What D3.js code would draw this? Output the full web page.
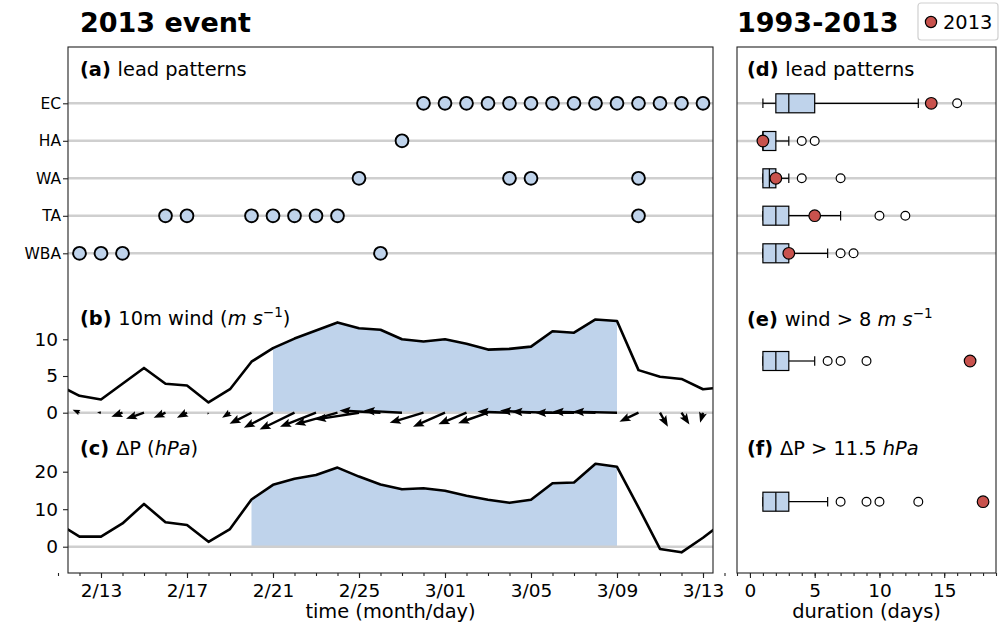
<!DOCTYPE html>
<html>
<head>
<meta charset="utf-8">
<script src="https://cdn.jsdelivr.net/npm/d3@7"></script>
<style>
  body { margin: 0; background: #fff; }
  svg text { font-family: "DejaVu Sans", sans-serif; fill: #000; }
</style>
</head>
<body>
<div id="chart"></div>
<script>
// ---- data ----
var dates = d3.timeDay.range(new Date(2013, 1, 11), new Date(2013, 2, 15)); // 2/11 .. 3/14
var wind = [3.8, 2.3, 1.8, 3.95, 6.1, 3.95, 3.7, 1.4, 3.2, 6.95, 8.8, 10.1, 11.2, 12.3, 11.5, 11.3, 10.0, 9.7,
            10.0, 9.4, 8.6, 8.7, 9.0, 11.1, 10.9, 12.7, 12.5, 5.8, 4.9, 4.6, 3.2, 3.5];
var dP = [6.2, 2.7, 2.7, 6.2, 11.4, 6.5, 5.8, 1.3, 4.7, 12.6, 16.5, 18.1, 19.1, 21.1, 18.7, 16.6, 15.3, 15.6,
          14.9, 13.6, 12.5, 11.7, 12.5, 16.9, 17.1, 22.1, 21.3, 10.5, -0.6, -1.5, 2.4, 6.7];
// 10m wind components (m/s)
var windU = [-1.0, -1.9, -1.1, -3.1, -5.0, -3.3, -2.8, -0.3, -2.2, -6.1, -8.1, -9.7, -10.0, -11.9, -12.2, -11.4, -10.6, -9.4,
             -8.9, -7.8, -8.3, -8.9, -8.6, -11.4, -10.8, -11.9, -12.2, -5.3, 2.2, 2.2, -0.8, -1.0];
var windV = [0.5, 0.8, 0.1, -1.1, -1.7, -1.4, -1.4, -0.6, -1.4, -3.1, -4.2, -4.7, -3.9, -3.3, -1.9, 0.6, 0.6, -2.8,
             -3.9, -3.2, -2.9, 0.3, 0.6, 0.3, 0.0, 0.3, 0.3, -2.5, -3.9, -3.3, -2.8, -2.0];
var windRun = ["2013-02-21", "2013-03-09"];
var dPRun = ["2013-02-20", "2013-03-09"];

var patterns = ["EC", "HA", "WA", "TA", "WBA"];
var leadDays = {
  EC: ["2013-02-28", "2013-03-01", "2013-03-02", "2013-03-03", "2013-03-04", "2013-03-05", "2013-03-06",
       "2013-03-07", "2013-03-08", "2013-03-09", "2013-03-10", "2013-03-11", "2013-03-12", "2013-03-13"],
  HA: ["2013-02-27"],
  WA: ["2013-02-25", "2013-03-04", "2013-03-05", "2013-03-10"],
  TA: ["2013-02-16", "2013-02-17", "2013-02-20", "2013-02-21", "2013-02-22", "2013-02-23", "2013-02-24", "2013-03-10"],
  WBA: ["2013-02-12", "2013-02-13", "2013-02-14", "2013-02-26"]
};
var xTickLabels = ["2/13", "2/17", "2/21", "2/25", "3/01", "3/05", "3/09", "3/13"];

// durations 1993-2013: [whisker low, q1, median, q3, whisker high]
var boxNames = ["EC", "HA", "WA", "TA", "WBA", "wind", "dP"];
var boxStats = [[1, 2, 3, 5, 13], [1, 1, 1, 2, 3], [1, 1, 1.5, 2, 3], [1, 1, 2, 3, 7], [1, 1, 2, 3, 6], [1, 1, 2, 3, 5], [1, 1, 2, 3, 6]];
var boxOutliers = [[16], [4, 5], [4, 7], [10, 12], [7, 8], [6, 7, 9], [7, 9, 10, 13]];
var dur2013 = [14, 1, 2, 5, 3, 17, 18];

// ---- layout ----
var W = 1001, H = 626;
var L = {x0: 68, x1: 713, y0: 47, y1: 573};
var R = {x0: 737, x1: 996, y0: 47, y1: 573};
var blue = "#bfd3eb", red = "#c8524d", grid = "#cfcfcf";

var svg = d3.select("#chart").append("svg").attr("width", W).attr("height", H);

svg.append("clipPath").attr("id", "clipL")
  .append("rect").attr("x", L.x0).attr("y", L.y0).attr("width", L.x1 - L.x0).attr("height", L.y1 - L.y0);

var parse = d3.timeParse("%Y-%m-%d");
var x = d3.scaleTime()
  .domain([new Date(2013, 1, 11, 11, 10), new Date(2013, 2, 13, 11, 10)])
  .range([L.x0, L.x1]);
var yA = d3.scalePoint().domain(patterns).range([103.3, 253.3]);
var yB = d3.scaleLinear().domain([0, 10]).range([412.7, 339.3]);
var yC = d3.scaleLinear().domain([0, 20]).range([546.7, 471.7]);

var gL = svg.append("g").attr("clip-path", "url(#clipL)");

// panel a
gL.selectAll(".rowA").data(patterns).enter().append("line")
  .attr("x1", L.x0).attr("x2", L.x1).attr("y1", d => yA(d)).attr("y2", d => yA(d))
  .attr("stroke", grid).attr("stroke-width", 2.5);
patterns.forEach(function(p) {
  gL.selectAll(".dot" + p).data(leadDays[p]).enter().append("circle")
    .attr("cx", d => x(parse(d))).attr("cy", yA(p)).attr("r", 6.4)
    .attr("fill", blue).attr("stroke", "#000").attr("stroke-width", 1.9);
});

// panel b
var windData = dates.map((d, i) => ({date: d, v: wind[i], u: windU[i], w: windV[i]}));
var wr = windRun.map(parse);
gL.append("path")
  .datum(windData.filter(d => d.date >= wr[0] && d.date <= wr[1]))
  .attr("fill", blue)
  .attr("d", d3.area().x(d => x(d.date)).y0(yB(0)).y1(d => yB(d.v)));
gL.append("line").attr("x1", L.x0).attr("x2", L.x1).attr("y1", yB(0)).attr("y2", yB(0))
  .attr("stroke", grid).attr("stroke-width", 2.5);
gL.append("path").datum(windData)
  .attr("fill", "none").attr("stroke", "#000").attr("stroke-width", 2.6).attr("stroke-linejoin", "round")
  .attr("d", d3.line().x(d => x(d.date)).y(d => yB(d.v)));

// quiver arrows (tail at the zero line)
var qScale = 3.6;
function arrowPath(d) {
  var x0 = x(d.date), y0 = yB(0);
  var dx = d.u * qScale, dy = -d.w * qScale;
  var len = Math.sqrt(dx * dx + dy * dy);
  if (len < 0.5) return "";
  var sw = 2.4, hl = 11, ha = 9.5, hw = 8.5;
  if (len < hl) { var k = len / hl; hl *= k; ha *= k; hw *= k; sw *= k; }
  var ux = dx / len, uy = dy / len, px = -uy, py = ux;
  function pt(a, b) { return [x0 + ux * a + px * b, y0 + uy * a + py * b]; }
  var pts = [pt(0, sw / 2), pt(len - ha, sw / 2), pt(len - hl, hw / 2), pt(len, 0),
             pt(len - hl, -hw / 2), pt(len - ha, -sw / 2), pt(0, -sw / 2)];
  return "M" + pts.map(p => p[0].toFixed(2) + "," + p[1].toFixed(2)).join("L") + "Z";
}
gL.selectAll(".arrow").data(windData).enter().append("path")
  .attr("d", arrowPath).attr("fill", "#000");

// panel c
var dPData = dates.map((d, i) => ({date: d, v: dP[i]}));
var pr = dPRun.map(parse);
gL.append("path")
  .datum(dPData.filter(d => d.date >= pr[0] && d.date <= pr[1]))
  .attr("fill", blue)
  .attr("d", d3.area().x(d => x(d.date)).y0(yC(0)).y1(d => yC(d.v)));
gL.append("line").attr("x1", L.x0).attr("x2", L.x1).attr("y1", yC(0)).attr("y2", yC(0))
  .attr("stroke", grid).attr("stroke-width", 2.5);
gL.append("path").datum(dPData)
  .attr("fill", "none").attr("stroke", "#000").attr("stroke-width", 2.6).attr("stroke-linejoin", "round")
  .attr("d", d3.line().x(d => x(d.date)).y(d => yC(d.v)));

// left frame and axes
svg.append("rect").attr("x", L.x0).attr("y", L.y0).attr("width", L.x1 - L.x0).attr("height", L.y1 - L.y0)
  .attr("fill", "none").attr("stroke", "#222").attr("stroke-width", 1.1);

function styleAxis(g, size) {
  g.select(".domain").remove();
  g.selectAll(".tick line").attr("stroke", "#222").attr("stroke-width", 1.1);
  g.selectAll(".tick text").style("font-family", "DejaVu Sans").style("font-size", size + "px").attr("fill", "#000");
}
var xTicks = xTickLabels.map(function(s) { var p = s.split("/"); return new Date(2013, +p[0] - 1, +p[1]); });
svg.append("g").attr("transform", "translate(0," + L.y1 + ")")
  .call(d3.axisBottom(x).tickValues(dates).tickSize(3).tickFormat(""))
  .call(g => styleAxis(g, 18));
svg.append("g").attr("transform", "translate(0," + L.y1 + ")")
  .call(d3.axisBottom(x).tickValues(xTicks).tickSize(5).tickPadding(6).tickFormat((d, i) => xTickLabels[i]))
  .call(g => styleAxis(g, 18.5));
svg.append("g").attr("transform", "translate(" + L.x0 + ",0)")
  .call(d3.axisLeft(yA).tickSize(5).tickPadding(2))
  .call(g => styleAxis(g, 15.5));
svg.append("g").attr("transform", "translate(" + L.x0 + ",0)")
  .call(d3.axisLeft(yB).tickValues([0, 5, 10]).tickSize(5).tickPadding(5))
  .call(g => styleAxis(g, 18.5));
svg.append("g").attr("transform", "translate(" + L.x0 + ",0)")
  .call(d3.axisLeft(yC).tickValues([0, 10, 20]).tickSize(5).tickPadding(5))
  .call(g => styleAxis(g, 18.5));

// right panel
var xr = d3.scaleLinear().domain([-1, 19]).range([R.x0, R.x1]);
var boxY = [103.3, 141, 178.3, 215.7, 253.3, 361, 501.7];
var gR = svg.append("g");
gR.selectAll(".rowR").data(boxY.slice(0, 5)).enter().append("line")
  .attr("x1", R.x0).attr("x2", R.x1).attr("y1", d => d).attr("y2", d => d)
  .attr("stroke", grid).attr("stroke-width", 2.5);

var bh = 19;
boxNames.forEach(function(name, i) {
  var s = boxStats[i], y = boxY[i], g = gR.append("g");
  g.append("line").attr("x1", xr(s[0])).attr("x2", xr(s[1])).attr("y1", y).attr("y2", y).attr("stroke", "#000").attr("stroke-width", 1.2);
  g.append("line").attr("x1", xr(s[3])).attr("x2", xr(s[4])).attr("y1", y).attr("y2", y).attr("stroke", "#000").attr("stroke-width", 1.2);
  [s[0], s[4]].forEach(function(c) {
    g.append("line").attr("x1", xr(c)).attr("x2", xr(c)).attr("y1", y - bh / 4).attr("y2", y + bh / 4)
      .attr("stroke", "#000").attr("stroke-width", 1.2);
  });
  g.append("rect").attr("x", xr(s[1])).attr("y", y - bh / 2).attr("width", xr(s[3]) - xr(s[1])).attr("height", bh)
    .attr("fill", blue).attr("stroke", "#000").attr("stroke-width", 1.2);
  g.append("line").attr("x1", xr(s[2])).attr("x2", xr(s[2])).attr("y1", y - bh / 2).attr("y2", y + bh / 2)
    .attr("stroke", "#000").attr("stroke-width", 1.2);
  g.selectAll(".out").data(boxOutliers[i]).enter().append("circle")
    .attr("cx", d => xr(d)).attr("cy", y).attr("r", 4.4)
    .attr("fill", "#fff").attr("stroke", "#000").attr("stroke-width", 1.2);
  g.append("circle").attr("cx", xr(dur2013[i])).attr("cy", y).attr("r", 5.8)
    .attr("fill", red).attr("stroke", "#000").attr("stroke-width", 1.2);
});

svg.append("rect").attr("x", R.x0).attr("y", R.y0).attr("width", R.x1 - R.x0).attr("height", R.y1 - R.y0)
  .attr("fill", "none").attr("stroke", "#222").attr("stroke-width", 1.1);
svg.append("g").attr("transform", "translate(0," + R.y1 + ")")
  .call(d3.axisBottom(xr).tickValues(d3.range(-1, 20)).tickSize(3).tickFormat(""))
  .call(g => styleAxis(g, 18));
svg.append("g").attr("transform", "translate(0," + R.y1 + ")")
  .call(d3.axisBottom(xr).tickValues([0, 5, 10, 15]).tickSize(5).tickPadding(6))
  .call(g => styleAxis(g, 18.5));

// ---- texts ----
function label(xp, yp, bold, parts) {
  var t = svg.append("text").attr("x", xp).attr("y", yp).style("font-size", "19.4px");
  t.append("tspan").style("font-weight", "bold").text(bold + " ");
  parts.forEach(function(p) {
    var s = t.append("tspan").text(p.t);
    if (p.i) s.style("font-style", "italic");
    if (p.sup) s.style("font-size", "13.5px").attr("dy", -8);
    if (p.down) s.attr("dy", 8);
  });
}
label(80, 76, "(a)", [{t: "lead patterns"}]);
label(80, 325, "(b)", [{t: "10m wind ("}, {t: "m s", i: true}, {t: "\u22121", sup: true}, {t: ")", down: true}]);
label(80, 455, "(c)", [{t: "\u0394P ("}, {t: "hPa", i: true}, {t: ")"}]);
label(747, 76, "(d)", [{t: "lead patterns"}]);
label(747, 326, "(e)", [{t: "wind > 8 "}, {t: "m s", i: true}, {t: "\u22121", sup: true}]);
label(747, 455, "(f)", [{t: "\u0394P > 11.5 "}, {t: "hPa", i: true}]);

svg.append("text").attr("x", 80).attr("y", 32).style("font-size", "27px").style("font-weight", "bold").text("2013 event");
svg.append("text").attr("x", 737).attr("y", 32).style("font-size", "27px").style("font-weight", "bold").text("1993-2013");
svg.append("text").attr("x", (L.x0 + L.x1) / 2).attr("y", 618).attr("text-anchor", "middle").style("font-size", "19.4px").text("time (month/day)");
svg.append("text").attr("x", (R.x0 + R.x1) / 2).attr("y", 618).attr("text-anchor", "middle").style("font-size", "19.4px").text("duration (days)");

// legend
var lg = svg.append("g");
lg.append("rect").attr("x", 918).attr("y", 3).attr("width", 80).attr("height", 37).attr("rx", 3)
  .attr("fill", "#fff").attr("stroke", "#d0d0d0").attr("stroke-width", 1.2);
lg.append("circle").attr("cx", 931).attr("cy", 22).attr("r", 5.6).attr("fill", red).attr("stroke", "#000").attr("stroke-width", 1.2);
lg.append("text").attr("x", 943).attr("y", 29).style("font-size", "19.4px").text("2013");
</script>
</body>
</html>
